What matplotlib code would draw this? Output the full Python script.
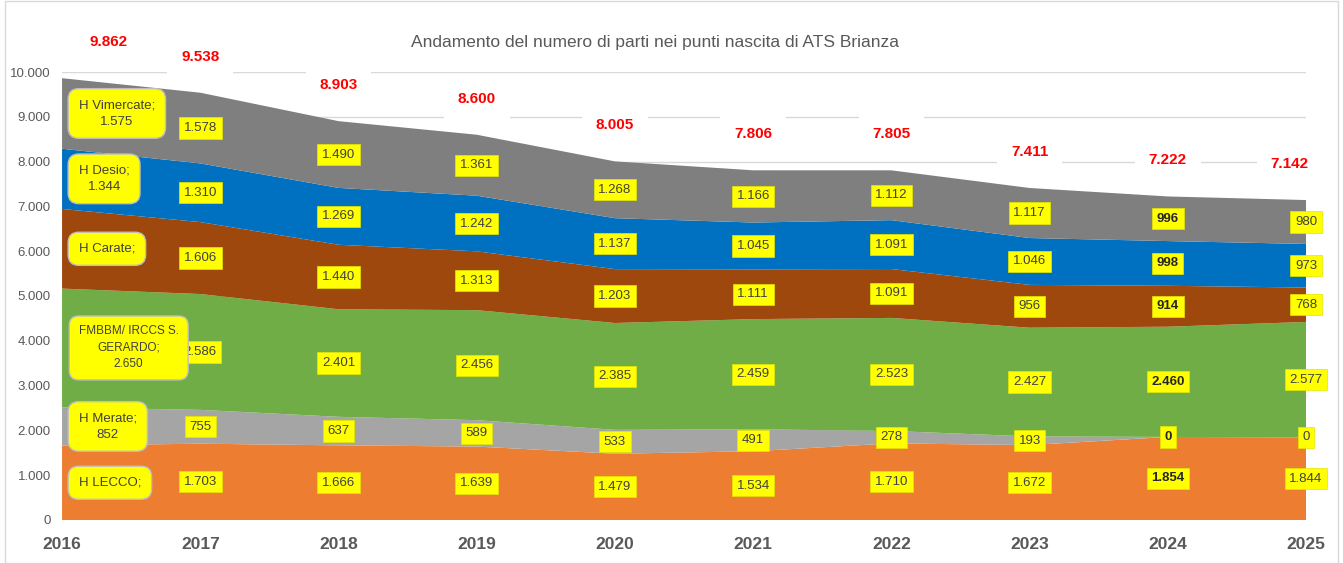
import numpy as np
import matplotlib
matplotlib.use("Agg")
import matplotlib.pyplot as plt
from matplotlib.patches import Rectangle

plt.rcParams["font.family"] = ["Liberation Sans", "DejaVu Sans"]

years = [2016, 2017, 2018, 2019, 2020, 2021, 2022, 2023, 2024, 2025]

# series from bottom to top
series_names = ["H LECCO", "H Merate", "FMBBM/ IRCCS S. GERARDO", "H Carate", "H Desio", "H Vimercate"]
lecco = [1663, 1703, 1666, 1639, 1479, 1534, 1710, 1672, 1854, 1844]
merate = [852, 755, 637, 589, 533, 491, 278, 193, 0, 0]
fmbbm = [2650, 2586, 2401, 2456, 2385, 2459, 2523, 2427, 2460, 2577]
carate = [1778, 1606, 1440, 1313, 1203, 1111, 1091, 956, 914, 768]
desio = [1344, 1310, 1269, 1242, 1137, 1045, 1091, 1046, 998, 973]
vimercate = [1575, 1578, 1490, 1361, 1268, 1166, 1112, 1117, 996, 980]
totals = [9862, 9538, 8903, 8600, 8005, 7806, 7805, 7411, 7222, 7142]

# first-year labels as shown in the chart (some have no value)
first_labels = ["H LECCO;", "H Merate;\n852", "FMBBM/ IRCCS S.\nGERARDO;\n2.650",
                "H Carate;", "H Desio;\n1.344", "H Vimercate;\n1.575"]

colors = ["#ED7D31", "#A5A5A5", "#70AD47", "#9E480E", "#0070C0", "#7F7F7F"]


def fmt(v):
    return f"{v:,}".replace(",", ".")


data = np.array([lecco, merate, fmbbm, carate, desio, vimercate])
tops = np.cumsum(data, axis=0)
bottoms = tops - data

fig = plt.figure(figsize=(13.43, 5.63), dpi=100)
ax = fig.add_axes([0.0462, 0.0764, 0.9263, 0.7957])

ax.set_xlim(years[0], years[-1])
ax.set_ylim(0, 10000)
ax.set_yticks(range(0, 10001, 1000))
ax.set_yticklabels([fmt(v) for v in range(0, 10001, 1000)], color="#595959", fontsize=9.5)
ax.set_xticks(years)
ax.set_xticklabels([str(y) for y in years], color="#595959", fontsize=12.5, fontweight="bold")
ax.tick_params(length=0, pad=8)
ax.tick_params(axis="x", pad=12)
for s in ax.spines.values():
    s.set_visible(False)
ax.yaxis.grid(True, color="#D9D9D9", linewidth=1)
ax.set_axisbelow(True)

ax.stackplot(years, data, colors=colors, zorder=2)

# value labels
for i in range(len(series_names)):
    for j in range(1, len(years)):
        mid = (bottoms[i, j] + tops[i, j]) / 2
        bold = "bold" if years[j] == 2024 else "normal"
        ax.text(years[j], mid, fmt(data[i, j]), ha="center", va="center", fontsize=9.5,
                color="#262626" if bold == "bold" else "#404040", fontweight=bold, zorder=5,
                bbox=dict(boxstyle="square,pad=0.35", fc="#FFFF00", ec="#E6E600", lw=0.5))

    mid = (bottoms[i, 0] + tops[i, 0]) / 2
    fs = 8.5 if i == 2 else 9.5
    ax.annotate(first_labels[i], (years[0], mid), xytext=(12, 0), textcoords="offset points",
                ha="left", va="center", fontsize=fs, color="#404040", linespacing=1.5,
                multialignment="center", zorder=6,
                bbox=dict(boxstyle="round,pad=0.8,rounding_size=0.8", fc="#FFFF00", ec="#BFBFBF", lw=1))

# totals in red
for j, (y, t) in enumerate(zip(years, totals)):
    ha = "center"
    dx = 0
    if j == 0:
        ha = "left"
        dx = 20
    elif j == len(years) - 1:
        ha = "right"
        dx = 2
    ax.annotate(fmt(t), (y, t), xytext=(dx, 26), textcoords="offset points",
                ha=ha, va="center", fontsize=11, fontweight="bold", color="#FF0000",
                zorder=6, annotation_clip=False,
                bbox=dict(boxstyle="square,pad=0.9", fc="white", ec="none"))

fig.text(0.488, 0.925, "Andamento del numero di parti nei punti nascita di ATS Brianza",
         ha="center", va="center", fontsize=12.5, color="#595959")

fig.patches.append(Rectangle((0.004, 0.0), 0.992, 0.998, transform=fig.transFigure,
                             fill=False, ec="#D9D9D9", lw=1))

fig.savefig("out.png", dpi=100)
